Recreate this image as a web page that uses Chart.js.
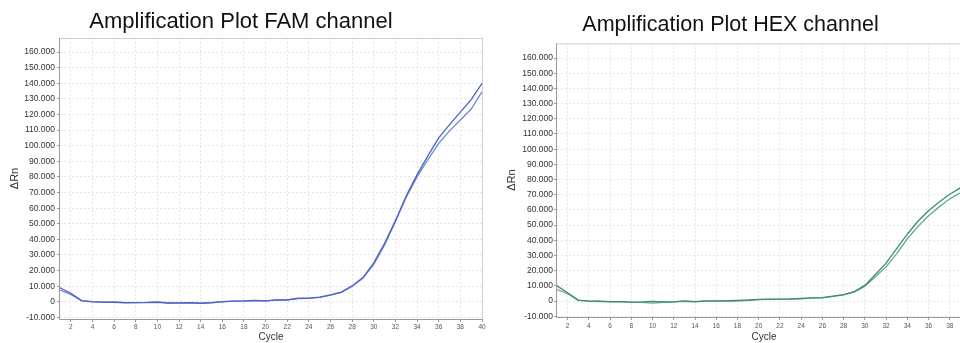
<!DOCTYPE html>
<html>
<head>
<meta charset="utf-8">
<script src="https://cdn.jsdelivr.net/npm/chart.js@4/dist/chart.umd.min.js"></script>
<style>
  html, body { margin: 0; padding: 0; background: #fff; }
  body { width: 960px; height: 343px; overflow: hidden; position: relative; }
  canvas { position: absolute; top: 0; }
  #fam { left: 0; }
  #hex { left: 490px; }
</style>
</head>
<body>
<canvas id="fam" width="490" height="343"></canvas>
<canvas id="hex" width="493" height="343"></canvas>
<script>
const cycles = [1, 2, 3, 4, 5, 6, 7, 8, 9, 10, 11, 12, 13, 14, 15, 16, 17, 18, 19, 20,
  21, 22, 23, 24, 25, 26, 27, 28, 29, 30, 31, 32, 33, 34, 35, 36, 37, 38, 39, 40];

const xTicks = [2, 4, 6, 8, 10, 12, 14, 16, 18, 20, 22, 24, 26, 28, 30, 32, 34, 36, 38, 40];
const yTicks = [-10000, 0, 10000, 20000, 30000, 40000, 50000, 60000, 70000, 80000, 90000,
  100000, 110000, 120000, 130000, 140000, 150000, 160000];

// FAM channel, two wells
const famA = [9000, 5500, 800, 100, -200, -100, -500, -500, -400, 0, -700, -700, -500, -900, -500,
  100, 500, 600, 900, 600, 1300, 1300, 2300, 2400, 3000, 4500, 6200, 10200, 15500, 25000,
  37500, 52000, 68000, 81500, 93500, 105000, 113500, 121500, 129500, 140000];
const famB = [7500, 4800, 600, 0, -300, -300, -600, -500, -500, -300, -900, -800, -600, -1000, -600,
  0, 400, 500, 800, 500, 1200, 1100, 2100, 2200, 2800, 4300, 6000, 10000, 15200, 24000,
  36500, 51500, 67000, 80000, 91000, 101500, 109500, 116500, 123500, 134500];

// HEX channel, two wells
const hexA = [10000, 5500, 600, 0, -100, -400, -400, -700, -600, -200, -600, -500, 100, -400, 100,
  100, 200, 500, 700, 1100, 1300, 1300, 1400, 1700, 2100, 2300, 3300, 4300, 6200, 10300,
  17500, 25000, 34500, 44000, 52500, 59500, 65200, 70300, 74500, 78000];
const hexB = [7500, 4800, 500, -100, -300, -600, -600, -900, -900, -1300, -800, -600, -200, -600, 0,
  0, 0, 0, 400, 900, 1100, 1100, 1200, 1500, 1900, 2100, 3100, 4000, 5800, 9800,
  16000, 22500, 31200, 41000, 49000, 56200, 62000, 67300, 71200, 74500];

const fontFamily = '"Liberation Sans", Arial, sans-serif';

const fmt = (v) => {
  if (v === 0) return '0';
  const s = Math.abs(v).toString().replace(/\B(?=(\d{3})+(?!\d))/g, '.');
  return (v < 0 ? '-' : '') + s;
};

// frame around the plot area
const framePlugin = {
  id: 'frame',
  afterDraw(chart) {
    const { ctx, chartArea: a } = chart;
    ctx.save();
    ctx.lineWidth = 1;
    ctx.strokeStyle = '#cfcfcf';
    ctx.beginPath();
    ctx.moveTo(a.left, a.top + 0.5);
    ctx.lineTo(a.right + 0.5, a.top + 0.5);
    ctx.lineTo(a.right + 0.5, a.bottom);
    ctx.stroke();
    ctx.strokeStyle = '#9a9a9a';
    ctx.beginPath();
    ctx.moveTo(a.left - 0.5, a.top);
    ctx.lineTo(a.left - 0.5, a.bottom + 0.5);
    ctx.lineTo(a.right + 0.5, a.bottom + 0.5);
    ctx.stroke();
    ctx.restore();
  }
};

const makeChart = (id, cfg) => {
  const series = cfg.series.map((s) => ({
    data: cycles.map((c, i) => ({ x: c, y: s.values[i] })),
    borderColor: s.color,
    borderWidth: 1.3,
    pointRadius: 0,
    tension: 0,
    fill: false
  }));

  return new Chart(document.getElementById(id), {
    type: 'line',
    data: { datasets: series },
    plugins: [framePlugin],
    options: {
      responsive: false,
      animation: false,
      layout: { padding: { left: 0, right: cfg.padRight, top: 0, bottom: 0 } },
      plugins: {
        legend: { display: false },
        tooltip: { enabled: false },
        title: {
          display: true,
          text: cfg.title,
          color: '#111',
          font: { family: fontFamily, size: cfg.titleSize, weight: 'normal', lineHeight: 1.2 },
          padding: { top: cfg.titleTop, bottom: cfg.titleBottom }
        }
      },
      scales: {
        x: {
          type: 'linear',
          min: 1,
          max: 40,
          afterBuildTicks: (s) => { s.ticks = xTicks.map((v) => ({ value: v })); },
          afterFit: (s) => { s.height = cfg.xHeight; },
          grid: { color: '#e6e6e6', tickLength: 3, tickColor: '#9a9a9a' },
          border: { display: false, dash: [2, 2] },
          ticks: {
            color: '#555',
            padding: cfg.xTickPad,
            maxRotation: 0,
            autoSkip: false,
            font: { family: fontFamily, size: 6.5 }
          },
          title: {
            display: true,
            text: 'Cycle',
            color: '#333',
            padding: { top: 0, bottom: 0 },
            font: { family: fontFamily, size: 10 }
          }
        },
        y: {
          min: cfg.yMin,
          max: cfg.yMax,
          afterBuildTicks: (s) => { s.ticks = yTicks.map((v) => ({ value: v })); },
          afterFit: (s) => { s.width = cfg.yWidth; },
          grid: { color: '#e6e6e6', tickLength: 3, tickColor: '#9a9a9a' },
          border: { display: false, dash: [2, 2] },
          ticks: {
            color: '#333',
            padding: cfg.yTickPad,
            autoSkip: false,
            font: { family: fontFamily, size: 8.5 },
            callback: (v) => fmt(v)
          },
          title: {
            display: true,
            text: 'ΔRn',
            color: '#333',
            padding: { top: cfg.yTitlePad, bottom: 0 },
            font: { family: fontFamily, size: 11 }
          }
        }
      }
    }
  });
};

makeChart('fam', {
  title: 'Amplification Plot FAM channel',
  series: [
    { values: famA, color: '#4a63c4' },
    { values: famB, color: '#6f86d6' }
  ],
  yMin: -11000, yMax: 169000,
  yWidth: 60, xHeight: 24, padRight: 8,
  titleSize: 22, titleTop: 9, titleBottom: 2.6,
  xTickPad: 1, yTickPad: 2, yTitlePad: 8
});

makeChart('hex', {
  title: 'Amplification Plot HEX channel',
  series: [
    { values: hexA, color: '#3f8d6c' },
    { values: hexB, color: '#62ad8d' }
  ],
  yMin: -10500, yMax: 169700,
  yWidth: 67, xHeight: 26, padRight: 12,
  titleSize: 21.5, titleTop: 12, titleBottom: 5.5,
  xTickPad: 2, yTickPad: 1, yTitlePad: 15
});
</script>
</body>
</html>
